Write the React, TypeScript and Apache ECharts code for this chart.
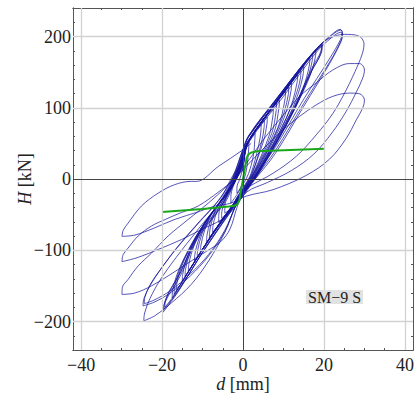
import React, { useEffect, useRef } from 'react';
import * as echarts from 'echarts';

// ---- axis ticks ----
const xMajorTicks = [-40, -20, 0, 20, 40];
const xMinorTicks = [-40, -35, -30, -25, -20, -15, -10, -5, 0, 5, 10, 15, 20, 25, 30, 35, 40];
const yMajorTicks = [-200, -100, 0, 100, 200];
const yMinorTicks = [-220, -200, -180, -160, -140, -120, -100, -80, -60, -40, -20, 0, 20, 40, 60, 80, 100, 120, 140, 160, 180, 200, 220];

// ---- measured hysteresis, [d (mm), H (kN)] ----
const smallCycles: number[][] = [
  [0, 15], [0.7, 42], [1.5, 52], [1.4, 42], [1, 18], [0.2, -2], [-0.8, -14], [-1.5, -20], [-1.5, -12], [-0.8, 0], [0, 16],
  [0.8, 46], [1.8, 56], [3, 64], [2.9, 54], [2.6, 34], [1.4, 8], [0, -8], [-1.5, -22], [-3, -34], [-3, -25], [-2.4, -10], [-1, 6], [0, 18],
  [0.8, 46], [2.5, 63], [4.5, 76], [4.4, 66], [3.9, 48], [2, 8], [0.5, -8], [-1.5, -26], [-2.8, -40], [-4.5, -48], [-4.5, -38], [-3.4, -22], [-1.6, 2], [0, 20],
  [0.8, 46], [3, 68], [6, 87], [5.9, 77], [5.1, 54], [2.2, 8], [0.5, -10], [-1.5, -27], [-3.2, -44], [-6, -61], [-6, -51], [-4.6, -30], [-2, -4], [0, 22],
  [0.8, 47], [3.8, 74], [7.5, 99], [7.4, 89], [6.4, 60], [2.5, 8], [0.5, -11], [-1.6, -28], [-3.8, -48], [-7.5, -75], [-7.4, -65], [-5.7, -37], [-2.2, -6], [0, 24],
  [0.8, 47], [4.5, 80], [9, 111], [8.9, 101], [7.7, 66], [2.8, 9], [0.5, -12], [-1.6, -29], [-4.5, -52], [-9, -89], [-8.9, -79], [-6.8, -43], [-2.3, -7], [0, 26],
  [0.9, 48], [5.3, 85], [10.5, 123], [10.4, 113], [8.6, 72], [3, 10], [0.5, -13], [-1.7, -30], [-5.3, -58], [-10.5, -103], [-10.4, -93], [-7.8, -50], [-2.4, -7], [0, 28],
  [0.9, 48], [6, 91], [12, 135], [11.9, 125], [9.6, 78], [3.3, 11], [0.5, -14], [-1.7, -31], [-6, -64], [-12, -116], [-11.9, -106], [-8.7, -57], [-2.5, -8], [0, 30],
  [0.9, 49], [6.8, 97], [13.5, 147], [13.4, 137], [10.6, 84], [3.6, 12], [0.5, -15], [-1.8, -32], [-6.8, -71], [-13.5, -130], [-13.4, -120], [-9.6, -64], [-2.6, -8], [0, 32],
  [1, 49], [7.5, 103], [15, 158], [14.9, 148], [11.5, 90], [3.9, 13], [0.5, -16], [-1.8, -33], [-7.5, -77], [-15, -144], [-14.9, -134], [-10.5, -71], [-2.7, -8], [0, 34],
  [1, 50], [8.3, 109], [16.5, 170], [16.4, 160], [12.3, 95], [4.2, 14], [0.5, -17], [-1.9, -34], [-8.3, -84], [-16.5, -158], [-16.4, -148], [-11.3, -78], [-2.8, -8], [0, 36],
  [1, 50], [9, 115], [18, 182], [17.9, 172], [13, 101], [4.5, 15], [0.5, -18], [-1.9, -35], [-9, -90], [-17.5, -167], [-17.4, -157], [-11.8, -82], [-2.9, -8], [0, 38],
];

const smallCyclesRepeat: number[][] = [
  [0, 20], [0.9, 47], [2.8, 66], [5.3, 82], [5.2, 72], [4.6, 52], [2.3, 8], [0.4, -10], [-1.6, -27], [-3, -42], [-5.3, -55], [-5.2, -45], [-4.1, -27], [-1.9, -3], [0, 22],
  [0.9, 48], [4.2, 78], [8.3, 106], [8.2, 96], [7.1, 64], [2.7, 9], [0.5, -12], [-1.6, -29], [-4.2, -51], [-8.3, -82], [-8.2, -72], [-6.4, -40], [-2.3, -6], [0, 25],
  [0.9, 48], [5.7, 89], [11.3, 129], [11.2, 119], [9, 75], [3.2, 10], [0.5, -13], [-1.7, -30], [-5.7, -62], [-11.3, -110], [-11.2, -100], [-8.3, -54], [-2.5, -8], [0, 29],
  [1, 49], [7.2, 100], [14.3, 152], [14.2, 142], [10.8, 87], [3.8, 12], [0.5, -15], [-1.8, -32], [-7.2, -74], [-14.3, -137], [-14.2, -127], [-10, -68], [-2.7, -8], [0, 33],
  [1, 50], [8.6, 112], [17.2, 176], [17.1, 166], [12.5, 98], [4.3, 14], [0.5, -17], [-1.9, -34], [-8.6, -87], [-17, -162], [-16.9, -152], [-11.5, -80], [-2.8, -8], [0, 37],
];

const cycles20: number[][] = [
  [0, 40], [1.3, 58], [9.5, 120], [16, 168], [19.5, 190], [19.3, 180], [17, 155], [12.5, 100], [4.5, 18], [0.5, -18], [-2, -36], [-9.5, -98], [-16, -158], [-19.75, -187], [-19.5, -176], [-15.5, -136], [-11.5, -86], [-5.5, -40], [-2.8, -8], [0, 40],
  [1.4, 60], [9.5, 121], [16, 169], [19.6, 189], [19.4, 178], [17, 152], [12.5, 96], [4.6, 16], [0.5, -19], [-2, -37], [-9.5, -99], [-16, -157], [-19.5, -183], [-19.3, -172], [-15.5, -132], [-11.5, -83], [-5.6, -40], [-2.9, -6], [0, 42],
  [1.4, 61], [9.5, 122], [16, 168], [19.4, 187], [19.2, 176], [16.8, 150], [12.4, 94], [4.8, 16], [0.5, -20], [-2, -38], [-9.5, -99], [-16, -156], [-19.3, -180], [-19.1, -169], [-15.4, -130], [-11.4, -81], [-5.7, -38], [-3, -5], [0, 42],
];

const cycles25: number[][] = [
  [1.4, 60], [10, 125], [18, 182], [22, 203], [24, 210], [24.5, 206], [24.1, 196], [21.5, 170], [15, 112], [8, 45], [3, 5], [0, -18], [-2, -40], [-4.5, -75], [-8.5, -115], [-12.8, -148], [-17.7, -174], [-21.8, -192], [-24.5, -199], [-24.3, -188], [-23, -168], [-20.5, -142], [-16.5, -110], [-11, -70], [-6, -34], [-2.5, 0], [0, 30],
  [1.5, 55], [10, 120], [18, 180], [22, 202], [24.2, 209], [24.6, 204], [24.2, 194], [21.6, 166], [15, 106], [8, 40], [3, 2], [0, -18], [-2, -40], [-4.5, -74], [-8.5, -108], [-13, -136], [-18, -160], [-22, -173], [-24.7, -178], [-24.5, -168], [-23, -150], [-20.5, -128], [-16.5, -98], [-11, -62], [-6, -30], [-2.5, 2], [0, 28],
  [1.5, 52], [10, 116], [18, 177], [22, 199], [24.2, 206], [24.5, 200], [24, 190], [21.4, 162], [15, 102], [8, 36], [3, 0], [0, -18], [-2, -40], [-4.5, -72], [-8.5, -106], [-13, -133], [-18, -157], [-22, -170], [-24.4, -175], [-24.2, -165], [-22.8, -147], [-20, -124], [-16, -94], [-10.5, -58], [-5.5, -26], [-2.5, 5], [0, 28],
];

const cycle30a: number[][] = [
  [0, 28], [1.4, 60], [8, 110], [14, 155], [19, 188], [21.5, 198], [25, 203], [28.5, 201], [29.9, 190], [29.6, 178], [28.4, 160], [25.5, 125], [22.2, 92], [18.1, 62], [13.2, 32], [7.4, 8], [1.7, -10], [0, -18],
  [-1.5, -40], [-3.2, -70], [-5.5, -88], [-8.6, -100], [-13.6, -118], [-18.5, -136], [-22.6, -150], [-26.7, -160], [-29.9, -162], [-29.8, -152], [-28.4, -141], [-25.9, -122], [-22.6, -104], [-18.5, -80], [-13.6, -57], [-8.6, -34], [-4, -10], [0, 15],
];
const cycle30b: number[][] = [
  [0, 15], [2.5, 35], [5, 55], [10, 90], [14, 116], [18.1, 135], [22.2, 153], [26.3, 162], [28.8, 162], [30, 153], [29.6, 142], [28, 122], [25.5, 95], [22, 65], [17.5, 35], [12, 12], [6, -5], [1, -18],
  [-2, -40], [-5.3, -57], [-10.3, -71], [-15.2, -85], [-21, -99], [-25.9, -110], [-29.9, -116], [-29.6, -106], [-28.4, -97], [-25.9, -80], [-22.6, -66], [-19.3, -57], [-15.2, -47], [-11.1, -38], [-6, -18], [-2, 0],
];
const cycle30c: number[][] = [
  [-2, 0], [2, 25], [6, 48], [9.9, 69], [14, 88], [18.1, 104], [22.2, 116], [26.3, 120.6], [28.8, 119.6], [30, 111], [29.6, 100], [28, 83], [25.5, 57], [21.4, 28], [15.6, 5], [7.4, -15], [0.8, -24],
  [-3, -34], [-7, -38], [-11, -46], [-17, -57], [-22, -69], [-26.7, -78.7], [-29.9, -80.5], [-29.6, -72], [-28.4, -62], [-25.1, -38], [-21, -20], [-16.9, -8], [-12.8, -3.3], [-11.5, -3.4], [-6, 18], [0, 41], [2, 50],
];

// ---- bilinear idealisation (green) ----
const bilinear: number[][] = [
  [-20, -46.3], [-10, -42], [-3.5, -38.5], [-2.2, -37.5], [-1.4, -35.5], [-0.9, -30],
  [0.9, 30], [1.4, 35], [2.1, 37.2], [3.5, 38.8], [20, 42.5],
];

const FONT = 'Liberation Serif';
const AX = '#555';
const TXT = '#222';
const FS = 18;

const fmt = (v: number) => (v < 0 ? '\u2212' + Math.abs(v) : String(v));

const nameStyle = {
  fontFamily: FONT, fontSize: FS, color: TXT,
  rich: {
    i: { fontFamily: FONT, fontSize: FS, fontStyle: 'italic', color: TXT },
    r: { fontFamily: FONT, fontSize: FS, color: TXT },
  },
};

function xAx(position: string, ticks: number[], len: number, labels: boolean, name?: boolean) {
  return {
    type: 'value', min: -42, max: 42, position,
    axisLine: { show: true, onZero: false, lineStyle: { color: AX, width: 1 } },
    axisTick: { show: true, inside: true, length: len, customValues: ticks, lineStyle: { color: AX, width: 1 } },
    axisLabel: labels
      ? { show: true, customValues: xMajorTicks, formatter: fmt, fontFamily: FONT, fontSize: FS, color: TXT, margin: 6 }
      : { show: false },
    splitLine: { show: false },
    ...(name ? { name: '{i|d}{r| [mm]}', nameLocation: 'middle', nameGap: 25, nameMoveOverlap: false, nameTextStyle: nameStyle } : {}),
  };
}

function yAx(position: string, ticks: number[], len: number, labels: boolean, name?: boolean) {
  return {
    type: 'value', min: -240, max: 240, position,
    axisLine: { show: true, onZero: false, lineStyle: { color: AX, width: 1 } },
    axisTick: { show: true, inside: true, length: len, customValues: ticks, lineStyle: { color: AX, width: 1 } },
    axisLabel: labels
      ? { show: true, customValues: yMajorTicks, formatter: fmt, fontFamily: FONT, fontSize: FS, color: TXT, margin: 2 }
      : { show: false },
    splitLine: { show: false },
    ...(name ? { name: '{i|H}{r| [kN]}', nameLocation: 'middle', nameGap: 39, nameRotate: 90, nameMoveOverlap: false, nameTextStyle: nameStyle } : {}),
  };
}

const BLUE = 'rgba(20, 20, 155, 0.72)';

function loopSeries(data: number[][]) {
  return {
    type: 'line', data, showSymbol: false, smooth: 0.35, z: 3,
    lineStyle: { color: BLUE, width: 1 },
    silent: true,
  };
}

export default function App() {
  const ref = useRef<HTMLDivElement>(null);
  useEffect(() => {
    if (!ref.current) return;
    const chart = echarts.init(ref.current, undefined, { renderer: 'svg' });
    chart.setOption({
      animation: false,
      backgroundColor: '#fff',
      grid: { left: 73, right: 1, top: 8, bottom: 44, containLabel: false, outerBoundsMode: 'none' },
      xAxis: [
        xAx('bottom', xMajorTicks, 4, true, true),
        xAx('bottom', xMinorTicks, 2, false),
        xAx('top', xMinorTicks, 2, false),
        xAx('top', xMajorTicks, 4, false),
      ],
      yAxis: [
        yAx('left', yMajorTicks, 4, true, true),
        yAx('left', yMinorTicks, 2, false),
        yAx('right', yMinorTicks, 2, false),
        yAx('right', yMajorTicks, 4, false),
      ],
      series: [
        {
          type: 'line', data: [], z: 1, silent: true,
          markLine: {
            silent: true, symbol: 'none', label: { show: false },
            lineStyle: { color: '#d2d2d2', width: 1.3, type: 'solid' },
            data: [
              ...xMajorTicks.filter((v) => v !== 0).map((v) => ({ xAxis: v })),
              ...yMajorTicks.filter((v) => v !== 0).map((v) => ({ yAxis: v })),
            ],
          },
        },
        {
          type: 'line', data: [], z: 2, silent: true,
          markLine: {
            silent: true, symbol: 'none', label: { show: false },
            lineStyle: { color: '#444', width: 1, type: 'solid' },
            data: [{ xAxis: 0 }, { yAxis: 0 }],
          },
        },
        loopSeries(smallCycles),
        loopSeries(smallCyclesRepeat),
        loopSeries(cycles20),
        loopSeries(cycles25),
        loopSeries(cycle30a),
        loopSeries(cycle30b),
        loopSeries(cycle30c),
        {
          type: 'line', data: bilinear, showSymbol: false, z: 4, silent: true,
          lineStyle: { color: '#1aa81a', width: 2 },
        },
      ],
      graphic: [
        {
          type: 'text', x: 306, y: 290, z: 10,
          style: {
            text: 'SM\u22129 S', fontFamily: FONT, fontSize: 16, fill: TXT,
            backgroundColor: '#e2e2e2', padding: [0, 2], lineHeight: 14,
            verticalAlign: 'top',
          },
        },
      ],
    });
    return () => chart.dispose();
  }, []);
  return <div ref={ref} style={{ position: 'absolute', left: 0, top: 0, width: 414, height: 394 }} />;
}
